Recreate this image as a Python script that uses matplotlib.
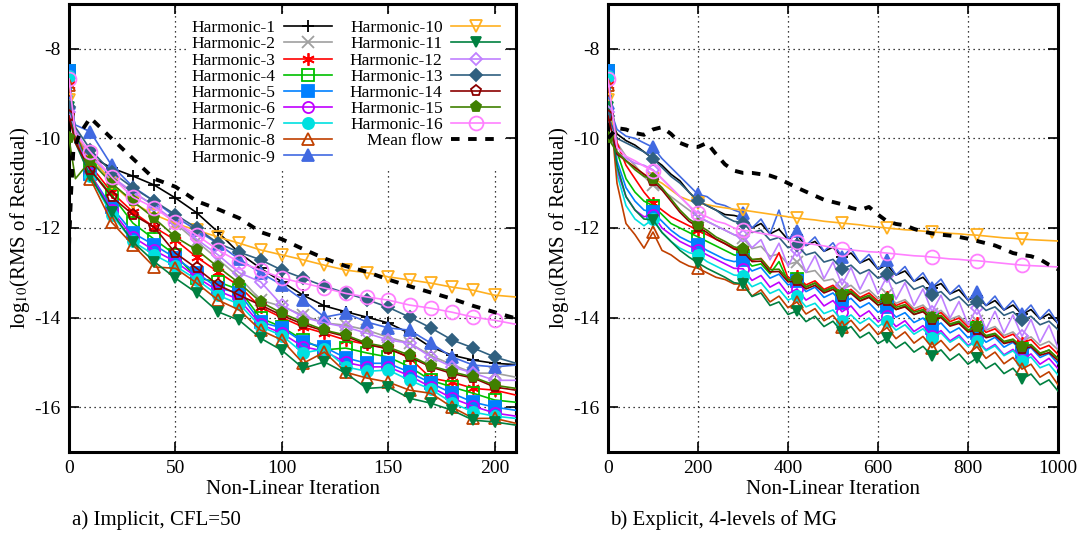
import matplotlib
matplotlib.use("Agg")
import matplotlib.pyplot as plt

plt.rcParams["font.family"] = ["Liberation Serif", "DejaVu Serif"]
plt.rcParams["mathtext.fontset"] = "stix"
plt.rcParams["axes.unicode_minus"] = False

# ---- left panel: implicit, CFL=50 ----
L_X = [0, 3, 10, 20, 30, 40, 50, 60, 70, 80, 90, 100, 110, 120, 130, 140, 150, 160, 170, 180, 190, 200, 210]
L_H1 = [-9.4, -9.9, -10.4, -10.66, -10.84, -11.04, -11.33, -11.66, -12.09, -12.56, -12.9, -13.2, -13.5, -13.74, -13.87, -13.99, -14.12, -14.35, -14.66, -14.84, -14.95, -15.02, -15.05]
L_H2 = [-8.6, -9.85, -10.5, -10.9, -11.2, -11.5, -11.9, -12.3, -12.7, -13.1, -13.61, -13.75, -13.95, -14.12, -14.17, -14.28, -14.44, -14.57, -14.85, -15.05, -15.24, -15.24, -15.33]
L_H3 = [-8.8, -9.9, -10.6, -11.2, -11.64, -11.98, -12.27, -12.65, -12.98, -13.3, -13.77, -14.0, -14.21, -14.35, -14.5, -14.6, -14.68, -14.9, -15.35, -15.44, -15.58, -15.62, -15.73]
L_H4 = [-8.5, -9.9, -10.7, -11.26, -11.89, -12.25, -12.6, -13.12, -13.2, -13.38, -14.01, -14.21, -14.5, -14.72, -14.68, -14.79, -14.88, -15.1, -15.4, -15.55, -15.69, -15.84, -15.89]
L_H5 = [-8.5, -9.95, -10.8, -11.53, -12.11, -12.38, -12.67, -13.0, -13.34, -13.45, -14.1, -14.23, -14.55, -14.66, -14.9, -15.02, -15.02, -15.22, -15.46, -15.69, -15.89, -16.0, -16.07]
L_H6 = [-8.6, -9.95, -10.8, -11.6, -12.2, -12.5, -12.75, -13.1, -13.4, -13.6, -14.15, -14.35, -14.65, -14.75, -15.0, -15.1, -15.1, -15.3, -15.55, -15.8, -15.98, -16.13, -16.2]
L_H7 = [-8.6, -10.0, -10.85, -11.7, -12.3, -12.6, -12.85, -13.15, -13.5, -13.7, -14.2, -14.4, -14.79, -14.7, -15.1, -15.2, -15.17, -15.4, -15.6, -15.9, -16.11, -16.2, -16.25]
L_H8 = [-8.8, -10.0, -10.9, -11.87, -12.38, -12.87, -12.9, -13.23, -13.61, -13.83, -14.28, -14.5, -15.02, -14.77, -15.22, -15.35, -15.44, -15.62, -15.69, -16.0, -16.25, -16.25, -16.36]
L_H9 = [-9.2, -9.7, -9.85, -10.6, -11.08, -11.4, -11.75, -12.05, -12.35, -12.7, -13.0, -13.27, -13.61, -13.99, -13.9, -14.1, -14.23, -14.28, -14.57, -14.88, -15.06, -15.1, -15.06]
L_H10 = [-9.15, -9.9, -10.35, -11.0, -11.44, -11.7, -11.9, -12.05, -12.2, -12.34, -12.49, -12.6, -12.71, -12.83, -12.94, -13.0, -13.09, -13.16, -13.23, -13.32, -13.39, -13.5, -13.54]
L_H11 = [-9.3, -10.1, -10.85, -11.64, -12.31, -12.75, -13.12, -13.45, -13.87, -14.06, -14.46, -14.73, -15.13, -14.99, -15.24, -15.58, -15.55, -15.8, -15.91, -16.07, -16.29, -16.33, -16.4]
L_H12 = [-9.4, -9.8, -10.4, -10.85, -11.2, -11.5, -11.85, -12.25, -12.6, -13.0, -13.2, -13.72, -13.99, -14.12, -14.21, -14.35, -14.5, -14.57, -14.88, -15.1, -15.24, -15.4, -15.4]
L_H13 = [-9.3, -9.75, -10.25, -10.75, -11.1, -11.4, -11.7, -12.0, -12.34, -12.54, -12.71, -12.94, -13.12, -13.3, -13.45, -13.6, -13.77, -13.99, -14.23, -14.5, -14.68, -14.88, -15.02]
L_H14 = [-9.5, -10.1, -10.7, -11.3, -11.7, -11.98, -12.56, -12.9, -13.27, -13.5, -13.72, -13.95, -14.15, -14.3, -14.42, -14.6, -14.7, -14.88, -15.1, -15.25, -15.35, -15.55, -15.62]
L_H15 = [-10.0, -10.9, -10.5, -11.0, -11.4, -11.78, -12.2, -12.49, -12.87, -13.23, -13.65, -13.9, -14.1, -14.28, -14.39, -14.57, -14.66, -14.84, -15.08, -15.21, -15.33, -15.51, -15.58]
L_H16 = [-8.67, -9.9, -10.3, -10.86, -11.31, -11.55, -11.87, -12.16, -12.49, -12.76, -12.94, -13.12, -13.23, -13.34, -13.46, -13.54, -13.61, -13.72, -13.79, -13.88, -13.99, -14.06, -14.15]
L_MEAN_X = [0, 1, 2, 5, 10, 20, 30, 40, 50, 60, 70, 80, 90, 100, 110, 120, 130, 140, 150, 160, 170, 180, 190, 200, 210]
L_MEAN = [-12.4, -11.2, -10.3, -9.9, -9.54, -10.0, -10.45, -10.9, -11.08, -11.4, -11.58, -11.78, -12.09, -12.25, -12.47, -12.68, -12.85, -12.98, -13.15, -13.3, -13.44, -13.58, -13.74, -13.88, -14.02]

# ---- right panel: explicit, 4 levels of MG ----
R_X = list(range(0, 1001, 20))
R_MARKS = [0, 100, 200, 300, 420, 520, 620, 720, 820, 920]
R_H1 = [-9.4, -9.9, -10.05, -10.15, -10.3, -10.45, -10.6, -10.8, -10.95, -11.2, -11.4, -11.5, -11.6, -11.7, -11.72,
        -11.77, -12.00, -11.90, -12.13, -12.03, -12.26, -12.16, -12.39, -12.30, -12.52, -12.43, -12.65, -12.56, -12.78, -12.69, -12.92,
        -12.82, -13.05, -12.96, -13.19, -13.10, -13.33, -13.24, -13.47, -13.38, -13.61, -13.52, -13.73, -13.62, -13.83, -13.72, -13.93,
        -13.82, -14.03, -13.92, -14.13]
R_H2 = [-8.6, -10.1, -10.4, -10.6, -10.85, -11.05, -11.15, -11.3, -11.45, -11.6, -11.75, -11.85, -11.95, -12.05, -12.15,
        -12.23, -12.46, -12.41, -12.63, -12.58, -12.81, -12.76, -12.99, -12.95, -13.18, -13.14, -13.37, -13.28, -13.47, -13.38, -13.57,
        -13.48, -13.68, -13.60, -13.80, -13.72, -13.92, -13.84, -14.04, -13.96, -14.16, -14.08, -14.28, -14.20, -14.40, -14.32, -14.52,
        -14.43, -14.62, -14.53, -14.72]
R_H3 = [-8.8, -10.1, -10.6, -10.9, -11.2, -11.44, -11.6, -11.75, -11.85, -11.95, -12.05, -12.15, -12.25, -12.35, -12.45,
        -12.48, -12.72, -12.68, -12.92, -12.55, -13.12, -13.08, -13.27, -13.18, -13.37, -13.28, -13.47, -13.37, -13.55, -13.45, -13.63,
        -13.53, -13.73, -13.65, -13.85, -13.77, -13.97, -13.89, -14.09, -14.01, -14.21, -14.13, -14.33, -14.25, -14.45, -14.37, -14.57,
        -14.49, -14.70, -14.62, -14.82]
R_H4 = [-8.5, -10.3, -10.9, -11.2, -11.4, -11.5, -11.7, -11.9, -12.0, -12.1, -12.2, -12.3, -12.4, -12.5, -12.6,
        -12.63, -12.85, -12.80, -13.02, -12.75, -13.19, -13.13, -13.32, -13.23, -13.42, -13.33, -13.52, -13.43, -13.62, -13.53, -13.72,
        -13.63, -13.82, -13.74, -13.93, -13.85, -14.04, -13.97, -14.17, -14.10, -14.30, -14.23, -14.43, -14.36, -14.56, -14.49, -14.69,
        -14.61, -14.81, -14.72, -14.92]
R_H5 = [-8.5, -10.5, -11.1, -11.4, -11.6, -11.65, -11.85, -12.05, -12.2, -12.3, -12.38, -12.5, -12.6, -12.7, -12.75,
        -12.72, -12.96, -12.88, -13.12, -13.03, -13.27, -13.19, -13.42, -13.32, -13.55, -13.45, -13.68, -13.57, -13.78, -13.67, -13.88,
        -13.77, -13.99, -13.89, -14.11, -14.01, -14.23, -14.12, -14.34, -14.23, -14.45, -14.34, -14.55, -14.44, -14.66, -14.55, -14.76,
        -14.67, -14.89, -14.80, -15.03]
R_H6 = [-8.6, -10.7, -11.3, -11.6, -11.75, -11.7, -12.0, -12.15, -12.3, -12.4, -12.49, -12.6, -12.7, -12.8, -12.9,
        -12.91, -13.17, -13.06, -13.32, -13.21, -13.47, -13.36, -13.61, -13.49, -13.74, -13.62, -13.87, -13.74, -13.98, -13.85, -14.09,
        -13.96, -14.20, -14.07, -14.31, -14.18, -14.42, -14.29, -14.52, -14.39, -14.62, -14.49, -14.72, -14.60, -14.83, -14.71, -14.94,
        -14.81, -15.04, -14.91, -15.14]
R_H7 = [-8.6, -10.8, -11.5, -11.8, -11.95, -11.8, -12.1, -12.3, -12.45, -12.55, -12.6, -12.75, -12.85, -12.95, -13.05,
        -13.07, -13.31, -13.22, -13.46, -13.37, -13.61, -13.52, -13.76, -13.68, -13.91, -13.83, -14.07, -13.94, -14.13, -14.01, -14.20,
        -14.07, -14.28, -14.16, -14.37, -14.25, -14.46, -14.34, -14.55, -14.43, -14.64, -14.52, -14.74, -14.63, -14.85, -14.74, -14.96,
        -14.88, -15.12, -15.04, -15.28]
R_H8 = [-8.8, -11.0, -11.9, -12.15, -12.45, -12.09, -12.5, -12.6, -12.75, -12.85, -12.9, -13.0, -13.1, -13.15, -13.25,
        -13.25, -13.52, -13.38, -13.65, -13.52, -13.78, -13.65, -13.92, -13.80, -14.07, -13.95, -14.22, -14.06, -14.30, -14.14, -14.38,
        -14.22, -14.47, -14.32, -14.57, -14.42, -14.67, -14.51, -14.74, -14.58, -14.81, -14.65, -14.91, -14.77, -15.03, -14.89, -15.15,
        -15.04, -15.33, -15.21, -15.50]
R_H9 = [-9.2, -9.8, -9.95, -10.0, -10.1, -10.2, -10.45, -10.65, -10.85, -11.05, -11.25, -11.3, -11.45, -11.5, -11.6,
        -11.67, -12.00, -11.80, -12.13, -11.60, -12.26, -12.06, -12.39, -12.20, -12.52, -12.33, -12.65, -12.46, -12.78, -12.59, -12.92,
        -12.72, -13.05, -12.86, -13.19, -13.00, -13.33, -13.14, -13.47, -13.28, -13.61, -13.42, -13.73, -13.52, -13.83, -13.62, -13.93,
        -13.72, -14.03, -13.82, -14.13]
R_H10 = [-9.15, -10.3, -10.5, -10.65, -10.8, -10.9, -11.0, -11.15, -11.3, -11.38, -11.44, -11.48, -11.52, -11.55, -11.58,
         -11.6, -11.63, -11.66, -11.69, -11.72, -11.75, -11.78, -11.8, -11.82, -11.85, -11.87, -11.89, -11.91, -11.93, -11.96, -11.98,
         -12.0, -12.02, -12.04, -12.05, -12.07, -12.09, -12.1, -12.12, -12.13, -12.15, -12.16, -12.18, -12.2, -12.22, -12.23, -12.25,
         -12.26, -12.27, -12.28, -12.29]
R_H11 = [-9.3, -10.6, -11.3, -11.6, -11.8, -11.82, -12.1, -12.3, -12.5, -12.65, -12.78, -12.9, -13.0, -13.1, -13.22,
         -13.25, -13.53, -13.45, -13.73, -13.65, -13.93, -13.85, -14.09, -13.97, -14.20, -14.08, -14.32, -14.20, -14.45, -14.33, -14.58,
         -14.46, -14.68, -14.55, -14.77, -14.64, -14.86, -14.72, -14.95, -14.81, -15.04, -14.90, -15.14, -15.02, -15.25, -15.13, -15.37,
         -15.26, -15.50, -15.39, -15.64]
R_H12 = [-9.4, -10.3, -10.45, -10.55, -10.6, -10.7, -10.9, -11.1, -11.3, -11.5, -11.75, -11.85, -11.95, -12.05, -12.15,
         -12.17, -12.44, -12.26, -12.71, -12.34, -12.85, -12.48, -12.99, -12.62, -13.13, -12.76, -13.27, -12.88, -13.37, -12.98, -13.47,
         -13.08, -13.59, -13.22, -13.73, -13.36, -13.87, -13.50, -14.01, -13.64, -14.15, -13.78, -14.26, -13.86, -14.34, -13.94, -14.42,
         -14.04, -14.55, -14.17, -14.67]
R_H13 = [-9.5, -10.0, -10.1, -10.2, -10.3, -10.45, -10.65, -10.85, -11.0, -11.2, -11.4, -11.5, -11.6, -11.75, -11.85,
         -11.88, -12.10, -12.05, -12.27, -12.21, -12.44, -12.38, -12.60, -12.54, -12.76, -12.70, -12.92, -12.83, -13.02, -12.93, -13.12,
         -13.03, -13.24, -13.16, -13.37, -13.29, -13.50, -13.42, -13.62, -13.53, -13.73, -13.65, -13.84, -13.76, -13.95, -13.87, -14.06,
         -13.97, -14.16, -14.08, -14.27]
R_H14 = [-9.5, -10.35, -10.5, -10.65, -10.8, -10.95, -11.15, -11.4, -11.65, -11.85, -11.98, -12.1, -12.25, -12.35, -12.47,
         -12.52, -12.75, -12.74, -12.98, -12.97, -13.20, -13.19, -13.36, -13.28, -13.45, -13.37, -13.54, -13.46, -13.63, -13.55, -13.72,
         -13.64, -13.82, -13.76, -13.93, -13.87, -14.05, -14.00, -14.19, -14.13, -14.32, -14.27, -14.45, -14.40, -14.58, -14.53, -14.71,
         -14.65, -14.84, -14.78, -14.96]
R_H15 = [-10.0, -10.3, -10.5, -10.7, -10.85, -10.9, -11.1, -11.35, -11.6, -11.8, -11.93, -12.05, -12.2, -12.3, -12.42,
         -12.47, -12.70, -12.69, -12.93, -12.92, -13.15, -13.14, -13.31, -13.23, -13.40, -13.32, -13.49, -13.41, -13.58, -13.50, -13.67,
         -13.59, -13.77, -13.71, -13.88, -13.82, -14.00, -13.95, -14.14, -14.08, -14.27, -14.22, -14.40, -14.35, -14.53, -14.48, -14.66,
         -14.60, -14.79, -14.73, -14.91]
R_H16 = [-8.67, -10.2, -10.4, -10.5, -10.62, -10.72, -10.9, -11.1, -11.3, -11.5, -11.67, -11.75, -11.85, -11.9, -12.0,
         -12.05, -12.08, -12.12, -12.15, -12.2, -12.26, -12.31, -12.34, -12.37, -12.4, -12.44, -12.47, -12.49, -12.51, -12.53, -12.54,
         -12.56, -12.58, -12.6, -12.62, -12.63, -12.65, -12.67, -12.69, -12.7, -12.72, -12.73, -12.75, -12.77, -12.79, -12.81, -12.83,
         -12.84, -12.85, -12.86, -12.87]
R_MEAN = [-10.0, -9.77, -9.8, -9.88, -9.92, -9.8, -9.75, -9.9, -10.1, -10.18, -10.19, -10.1, -10.35, -10.58, -10.72,
          -10.77, -10.77, -10.8, -10.83, -10.9, -11.0, -11.1, -11.19, -11.28, -11.37, -11.42, -11.47, -11.55, -11.6, -11.53, -11.7,
          -11.85, -11.91, -11.94, -12.02, -12.08, -12.12, -12.15, -12.17, -12.2, -12.24, -12.29, -12.34, -12.39, -12.47, -12.56, -12.6,
          -12.63, -12.7, -12.82, -12.92]

LABELS = ["Harmonic-%d" % i for i in range(1, 17)]
COLORS = ["black", "#a0a0a0", "#ff0000", "#00c000", "#0080ff", "#c000ff", "#00e0e0", "#c04000",
          "#4169e1", "#ffb020", "#008040", "#c080ff", "#306080", "#8b0000", "#408000", "#ff80ff"]
MARKERS = ["+", "x", (6, 2, 0), "s", "s", "o", "o", "^", "^", "v", "v", "D", "D", "p", "p", "o"]
FILLED = [True, True, True, False, True, False, True, False, True, False, True, False, True, False, True, False]
SIZES = [9, 8, 9, 8, 8, 8, 8, 8, 8, 8, 7, 6, 6, 8, 8, 10]

left_series = [L_H1, L_H2, L_H3, L_H4, L_H5, L_H6, L_H7, L_H8, L_H9, L_H10, L_H11, L_H12, L_H13, L_H14, L_H15, L_H16]
right_series = [R_H1, R_H2, R_H3, R_H4, R_H5, R_H6, R_H7, R_H8, R_H9, R_H10, R_H11, R_H12, R_H13, R_H14, R_H15, R_H16]

fig = plt.figure(figsize=(10.85, 5.35), dpi=100)
ax1 = fig.add_axes([69 / 1085, 83 / 535, 447 / 1085, 448 / 535])
ax2 = fig.add_axes([608 / 1085, 83 / 535, 450 / 1085, 448 / 535])

l_marks = [i for i, x in enumerate(L_X) if x % 10 == 0 and x <= 200]
r_marks = [R_X.index(m) for m in R_MARKS]


def draw(ax, xs, series, marks, mx, my):
    for i, ys in enumerate(series):
        face = COLORS[i] if FILLED[i] else "none"
        ax.plot(xs, ys, color=COLORS[i], lw=1.2, marker=MARKERS[i], ms=SIZES[i],
                mfc=face, mec=COLORS[i], mew=1.3, markevery=marks, label=LABELS[i], zorder=3)
    ax.plot(mx, my, color="black", lw=2.8, linestyle=(0, (2.2, 2.2)), label="Mean flow", zorder=4)


draw(ax1, L_X, left_series, l_marks, L_MEAN_X, L_MEAN)
draw(ax2, R_X, right_series, r_marks, R_X, R_MEAN)

for ax, xmax, xt in [(ax1, 210, range(0, 201, 50)), (ax2, 1000, range(0, 1001, 200))]:
    ax.set_xlim(0, xmax)
    ax.set_ylim(-17, -7)
    ax.set_xticks(list(xt))
    ax.set_yticks([-8, -10, -12, -14, -16])
    ax.tick_params(direction="in", top=True, right=True, length=7, width=1.2, labelsize=14, pad=6)
    ax.grid(True, color="black", linestyle=(0, (1, 3)), lw=0.9, zorder=0)
    for s in ax.spines.values():
        s.set_linewidth(2.2)
    ax.set_xlabel("Non-Linear Iteration", fontsize=15, labelpad=2)
    ax.set_ylabel(r"log$_{10}$(RMS of Residual)", fontsize=15, labelpad=2)

leg = ax1.legend(ncol=2, loc="upper right", bbox_to_anchor=(0.995, 0.995), markerfirst=False,
                 fontsize=12.5, labelspacing=0.0, handlelength=2.8, handletextpad=0.5,
                 columnspacing=1.0, borderpad=0.3, frameon=True, fancybox=False,
                 framealpha=1.0, edgecolor="none", facecolor="white")
leg.set_zorder(5)

fig.text(72 / 1085, 1 - 520 / 535, "a) Implicit, CFL=50", fontsize=15, va="center")
fig.text(610 / 1085, 1 - 520 / 535, "b) Explicit, 4-levels of MG", fontsize=15, va="center")

fig.savefig("out.png", dpi=100)
